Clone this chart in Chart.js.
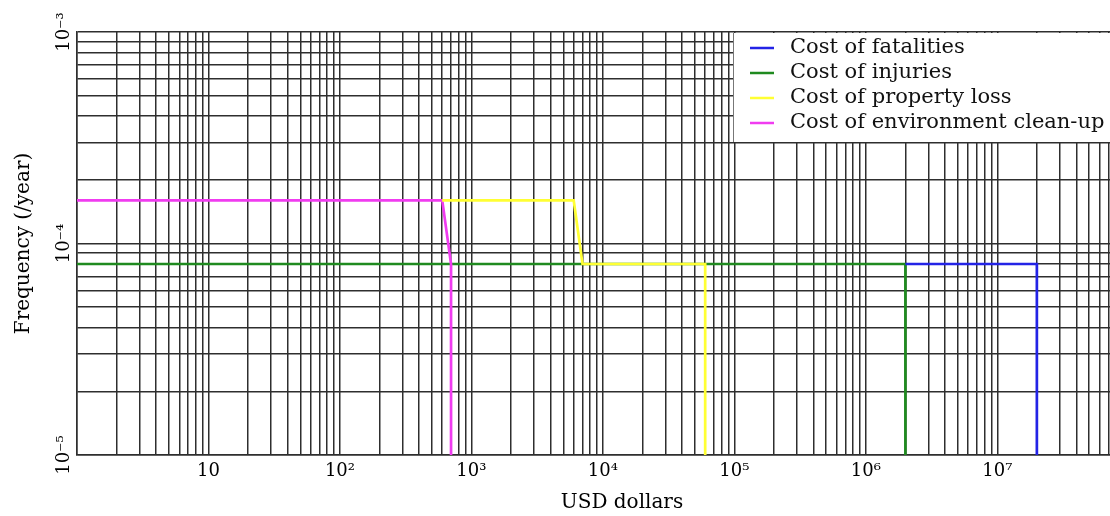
<!DOCTYPE html>
<html>
<head>
<meta charset="utf-8">
<title>Cost frequency chart</title>
<script src="https://cdn.jsdelivr.net/npm/chart.js@4.4.1/dist/chart.umd.min.js"></script>
<style>
    html, body { margin: 0; padding: 0; background: #fff; }
    .chart-box { width: 1110px; height: 516px; position: relative; }
</style>
</head>
<body>
<div class="chart-box"><canvas id="costChart"></canvas></div>
<script>
// series names (legend order)
const seriesNames = ['Cost of fatalities', 'Cost of injuries', 'Cost of property loss', 'Cost of environment clean-up'];
const seriesColors = ['#2323e6', '#1f8a1f', '#ffff33', '#f03cf0'];

// step curves: cost (USD) and frequency (/year) at each corner
const fatalitiesX = [2e6, 2e7, 2e7];
const fatalitiesY = [8e-5, 8e-5, 1e-5];
const injuriesX = [1, 2e6, 2e6];
const injuriesY = [8e-5, 8e-5, 1e-5];
const propertyX = [600, 6000, 7000, 6e4, 6e4];
const propertyY = [1.6e-4, 1.6e-4, 8e-5, 8e-5, 1e-5];
const environmentX = [1, 600, 700, 700];
const environmentY = [1.6e-4, 1.6e-4, 8e-5, 1e-5];

// axes
const xTitle = 'USD dollars';
const yTitle = 'Frequency (/year)';
const xMin = 1, xMax = 7.2e7;
const yMin = 1e-5, yMax = 1e-3;
const xTickValues = [10, 100, 1000, 1e4, 1e5, 1e6, 1e7];
const xTickLabels = ['10', '10²', '10³', '10⁴', '10⁵', '10⁶', '10⁷'];
const yTickValues = [1e-5, 1e-4, 1e-3];
const yTickLabels = ['10⁻⁵', '10⁻⁴', '10⁻³'];

const gridColor = '#2e2e2e';

function toPoints(xs, ys) {
    return xs.map((x, i) => ({ x: x, y: ys[i] }));
}

// one grid line at every 1..9 x 10^n inside the range
function gridValues(min, max) {
    const out = [];
    for (let e = Math.floor(Math.log10(min)); e <= Math.ceil(Math.log10(max)); e++) {
        for (let k = 1; k < 10; k++) {
            const v = k * Math.pow(10, e);
            if (v >= min * 0.9999 && v <= max * 1.0001) out.push(v);
        }
    }
    return out;
}

function labelFor(values, labels) {
    return function(value) {
        for (let i = 0; i < values.length; i++) {
            if (Math.abs(Math.log10(value) - Math.log10(values[i])) < 1e-6) return labels[i];
        }
        return '';
    };
}

// legend box drawn inside the plot, top right, plus the x axis title
const legendBox = {
    id: 'legendBox',
    afterDatasetsDraw(chart) {
        const ctx = chart.ctx;
        const area = chart.chartArea;
        const left = 733;
        const top = area.top + 1;
        const bottom = area.top + 110;
        ctx.save();
        ctx.fillStyle = '#fff';
        ctx.fillRect(left, top, chart.width - left, bottom - top);
        ctx.strokeStyle = '#777';
        ctx.lineWidth = 1;
        ctx.beginPath();
        ctx.moveTo(left + 0.5, top);
        ctx.lineTo(left + 0.5, bottom);
        ctx.stroke();
        ctx.font = '21px "DejaVu Serif"';
        ctx.textBaseline = 'middle';
        chart.data.datasets.forEach((ds, i) => {
            const y = area.top + 16 + i * 25;
            ctx.strokeStyle = ds.borderColor;
            ctx.lineWidth = 2.5;
            ctx.beginPath();
            ctx.moveTo(left + 17, y);
            ctx.lineTo(left + 41, y);
            ctx.stroke();
            ctx.fillStyle = '#111';
            ctx.fillText(ds.label, left + 57, y);
        });
        ctx.restore();
    },
    afterDraw(chart) {
        const ctx = chart.ctx;
        ctx.save();
        ctx.font = '20px "DejaVu Serif"';
        ctx.fillStyle = '#000';
        ctx.textAlign = 'center';
        ctx.textBaseline = 'middle';
        ctx.fillText(xTitle, 622, 503);
        ctx.restore();
    }
};

Chart.defaults.font.family = '"DejaVu Serif", serif';
Chart.defaults.color = '#000';

const ctx = document.getElementById('costChart');
new Chart(ctx, {
    type: 'line',
    data: {
        datasets: [
            { label: seriesNames[0], data: toPoints(fatalitiesX, fatalitiesY), borderColor: seriesColors[0], order: 0 },
            { label: seriesNames[1], data: toPoints(injuriesX, injuriesY), borderColor: seriesColors[1], order: 1 },
            { label: seriesNames[2], data: toPoints(propertyX, propertyY), borderColor: seriesColors[2], order: 0 },
            { label: seriesNames[3], data: toPoints(environmentX, environmentY), borderColor: seriesColors[3], order: 0 }
        ]
    },
    options: {
        responsive: true,
        maintainAspectRatio: false,
        animation: false,
        layout: { padding: { top: 32, right: 0, bottom: 0, left: 0 } },
        elements: {
            line: { borderWidth: 2.7, tension: 0, fill: false },
            point: { radius: 0, hoverRadius: 0 }
        },
        plugins: {
            legend: { display: false },
            tooltip: { enabled: false }
        },
        scales: {
            x: {
                type: 'logarithmic',
                min: xMin,
                max: xMax,
                afterBuildTicks: function(scale) {
                    scale.ticks = gridValues(xMin, xMax).map(v => ({ value: v }));
                },
                afterFit: function(scale) {
                    scale.height = 61;
                    scale.paddingLeft = 0;
                    scale.paddingRight = 0;
                },
                grid: { color: gridColor, lineWidth: 1.5, drawTicks: false },
                border: { color: gridColor, width: 1.5 },
                ticks: {
                    autoSkip: false,
                    minRotation: 0,
                    maxRotation: 0,
                    padding: 6,
                    font: { size: 18 },
                    callback: labelFor(xTickValues, xTickLabels)
                },
                title: { display: false, text: xTitle }
            },
            y: {
                type: 'logarithmic',
                min: yMin,
                max: yMax,
                afterBuildTicks: function(scale) {
                    scale.ticks = gridValues(yMin, yMax).map(v => ({ value: v }));
                },
                afterFit: function(scale) {
                    scale.width = 77;
                    scale.paddingTop = 0;
                    scale.paddingBottom = 0;
                },
                grid: { color: gridColor, lineWidth: 1.5, drawTicks: false },
                border: { color: gridColor, width: 1.5 },
                ticks: {
                    autoSkip: false,
                    minRotation: 90,
                    maxRotation: 90,
                    crossAlign: 'center',
                    padding: -7,
                    font: { size: 18 },
                    callback: labelFor(yTickValues, yTickLabels)
                },
                title: {
                    display: true,
                    text: yTitle,
                    font: { size: 20 },
                    padding: { top: 12, bottom: 0 }
                }
            }
        }
    },
    plugins: [legendBox]
});
</script>
</body>
</html>
